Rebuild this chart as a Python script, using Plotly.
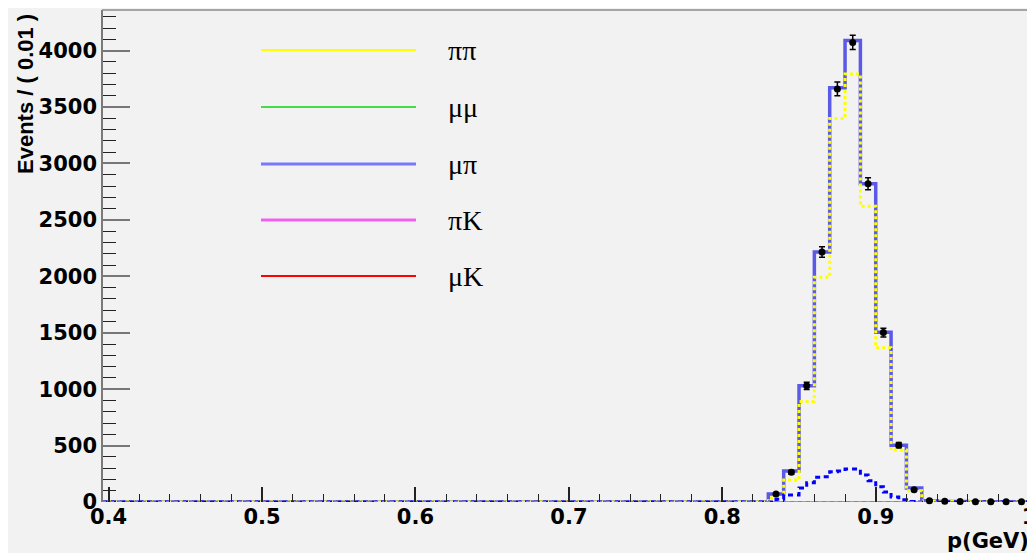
import numpy as np
import plotly.graph_objects as go

# ---------------- data ----------------
XMIN, XMAX = 0.3957, 1.0012
YMAX = 4360
BIN_W = 0.01
FIRST_EDGE = 0.83          # bins below this edge are empty

# bins 0.83-0.84 ... 0.99-1.00
data_counts = [70, 263, 1030, 2215, 3661, 4073, 2820, 1502, 504, 108, 12, 6, 4, 3, 3, 2, 2]
total_fit   = [70, 274, 1030, 2215, 3670, 4090, 2820, 1504, 504, 124, 10, 5, 4, 3, 2, 2, 1]
pipi_comp   = [35, 195, 890, 1991, 3398, 3793, 2620, 1366, 460, 100, 8, 4, 3, 2, 2, 1, 1]

# mu-pi component, drawn on a finer 0.005 grid
mupi_x = [0.830, 0.835, 0.840, 0.845, 0.850, 0.855, 0.860, 0.865, 0.870, 0.875,
          0.880, 0.885, 0.890, 0.895, 0.900, 0.905, 0.910, 0.915, 0.920, 0.925]
mupi_y = [0, 25, 62, 62, 124, 170, 220, 224, 268, 274,
          292, 292, 239, 189, 135, 88, 44, 20, 5, 0]

legend_labels = ["ππ", "μμ", "μπ", "πK", "μK"]
legend_colors = ["#ffff00", "#44dd44", "#7878ff", "#f060f0", "#ff0000"]
legend_widths = [2, 2, 3, 3, 2]

x_title = "p(GeV)"
y_title = "Events / ( 0.01 )"

# ---------------- helpers ----------------
n = len(data_counts)
edges = [round(FIRST_EDGE + BIN_W * i, 3) for i in range(n + 1)]
centers = [round(FIRST_EDGE + BIN_W * (i + 0.5), 4) for i in range(n)]


def step_xy(vals):
    xs = [XMIN] + edges + [XMAX]
    ys = [0] + list(vals) + [0, 0]
    return xs, ys


BG = "#f2f2f2"
fig = go.Figure()

# zero-valued components along the baseline
fig.add_trace(go.Scatter(x=[XMIN, XMAX], y=[0, 0], mode="lines",
                         line=dict(color="#ff0000", width=2), showlegend=False, hoverinfo="skip"))
fig.add_trace(go.Scatter(x=[XMIN, XMAX], y=[0, 0], mode="lines",
                         line=dict(color="#44dd44", width=2), showlegend=False, hoverinfo="skip"))

# total fit (thick blue step)
tx, ty = step_xy(total_fit)
fig.add_trace(go.Scatter(x=tx, y=ty, mode="lines", line_shape="hv",
                         line=dict(color="#5a5ae6", width=3.5), showlegend=False, hoverinfo="skip"))

# pi-pi component (yellow dotted step)
px_, py_ = step_xy(pipi_comp)
fig.add_trace(go.Scatter(x=px_, y=py_, mode="lines", line_shape="hv",
                         line=dict(color="#ffff00", width=3, dash="3px,3px"),
                         showlegend=False, hoverinfo="skip"))

# mu-pi component (blue dashed)
mx = [XMIN] + mupi_x + [XMAX]
my = [0] + mupi_y + [0]
fig.add_trace(go.Scatter(x=mx, y=my, mode="lines", line_shape="hv",
                         line=dict(color="#0000ff", width=3, dash="5px,4px"),
                         showlegend=False, hoverinfo="skip"))

# pi-K component (magenta dashed at zero)
fig.add_trace(go.Scatter(x=[XMIN, XMAX], y=[0, 0], mode="lines",
                         line=dict(color="#ff33ff", width=2, dash="4px,4px"),
                         showlegend=False, hoverinfo="skip"))

# data points
fig.add_trace(go.Scatter(x=centers, y=data_counts, mode="markers",
                         marker=dict(color="black", size=7, symbol="circle"),
                         error_y=dict(type="data", array=list(np.sqrt(data_counts)),
                                      color="black", thickness=1.5, width=3),
                         cliponaxis=False, showlegend=False))

# ---------------- layout geometry (page has an 8px body margin) ----------------
OFF = 8
W, H = 1035 - OFF, 553 - OFF
PLOT_L, PLOT_R, PLOT_T, PLOT_B = 102, 1031, 10, 502   # in screenshot pixels

leg_y_px = [50, 107, 164, 220, 276]


def px2paper_x(p):
    return (p - PLOT_L) / (PLOT_R - PLOT_L)


def px2paper_y(q):
    return (PLOT_B - q) / (PLOT_B - PLOT_T)


shapes = []
annotations = []
for lab, col, w, yp in zip(legend_labels, legend_colors, legend_widths, leg_y_px):
    yy = px2paper_y(yp)
    shapes.append(dict(type="line", xref="paper", yref="paper",
                       x0=px2paper_x(261), x1=px2paper_x(416), y0=yy, y1=yy,
                       line=dict(color=col, width=w)))
    annotations.append(dict(xref="paper", yref="paper", x=px2paper_x(446), y=yy,
                            text=lab, showarrow=False, xanchor="left", yanchor="middle",
                            font=dict(family="Liberation Serif", size=28, color="black")))

# frame
shapes += [
    dict(type="line", xref="paper", yref="paper", x0=0, x1=0, y0=0, y1=1,
         line=dict(color="#7a7a7a", width=2)),
    dict(type="line", xref="paper", yref="paper", x0=0, x1=1, y0=1, y1=1,
         line=dict(color="#8a8a8a", width=1.5)),
    dict(type="line", xref="paper", yref="paper", x0=1, x1=1, y0=0, y1=1,
         line=dict(color="#404040", width=2.5)),
]

# axis titles
annotations.append(dict(xref="paper", yref="paper", x=1.0, y=px2paper_y(541),
                        text=x_title, showarrow=False, xanchor="right", yanchor="middle",
                        font=dict(family="DejaVu Sans", size=21, color="black", weight="bold")))
annotations.append(dict(xref="paper", yref="paper", x=px2paper_x(25), y=px2paper_y(94),
                        text=y_title, showarrow=False, textangle=-90,
                        xanchor="center", yanchor="middle",
                        font=dict(family="Liberation Sans", size=22, color="black", weight="bold")))

tickfont = dict(family="DejaVu Sans", size=21, color="black", weight="bold")

fig.update_layout(
    width=W, height=H,
    margin=dict(l=PLOT_L - OFF, r=1035 - PLOT_R, t=PLOT_T - OFF, b=553 - PLOT_B, autoexpand=False),
    paper_bgcolor=BG, plot_bgcolor=BG,
    shapes=shapes, annotations=annotations,
    xaxis=dict(range=[XMIN, XMAX], tick0=0.4, dtick=0.1, ticks="inside", ticklen=15,
               tickcolor="#222", tickwidth=1.5, showgrid=False, zeroline=False,
               showline=False, tickfont=tickfont, ticklabeloverflow="allow",
               minor=dict(dtick=0.02, tick0=0.4, ticks="inside", ticklen=8,
                          tickcolor="#222", tickwidth=1.2, showgrid=False)),
    yaxis=dict(range=[0, YMAX], tick0=0, dtick=500, ticks="inside", ticklen=28,
               tickcolor="#777", tickwidth=1.5, showgrid=False, zeroline=False,
               showline=False, tickfont=tickfont, tickformat="d", ticklabelstandoff=4,
               minor=dict(dtick=100, tick0=0, ticks="inside", ticklen=14,
                          tickcolor="#222", tickwidth=1.2, showgrid=False)),
)

fig.write_html("out.html")
